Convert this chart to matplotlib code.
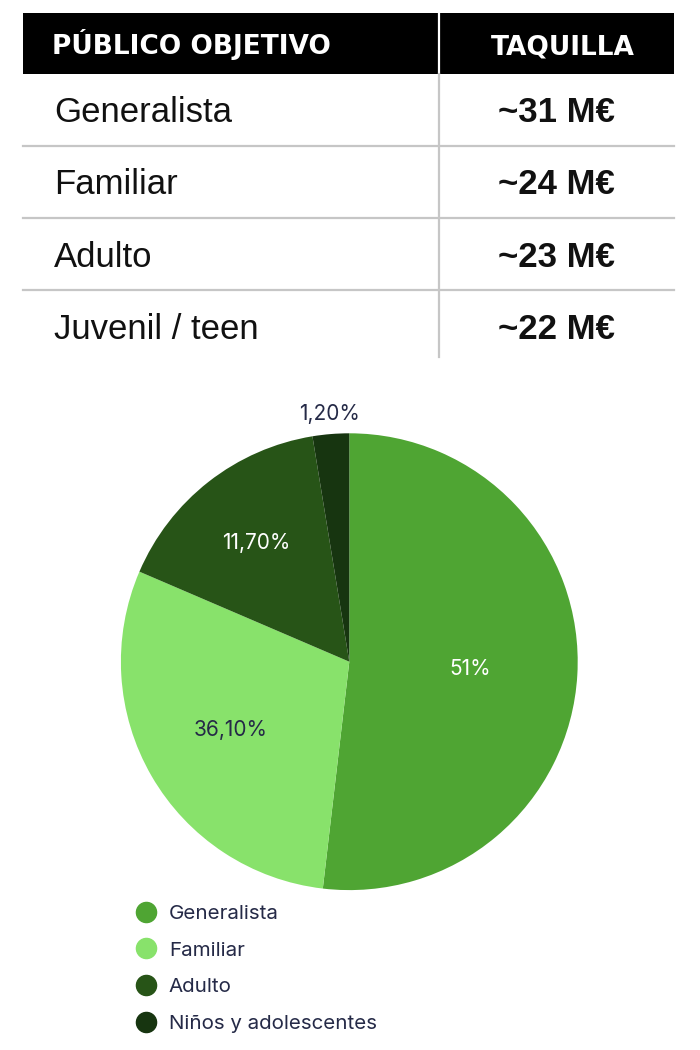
import matplotlib
matplotlib.use("Agg")
import matplotlib.pyplot as plt
from matplotlib.patches import Rectangle
from matplotlib.lines import Line2D
import numpy as np

### table data
header = ["PÚBLICO OBJETIVO", "TAQUILLA"]
publico = ["Generalista", "Familiar", "Adulto", "Juvenil / teen"]
taquilla = ["~31 M€", "~24 M€", "~23 M€", "~22 M€"]

### pie data (shares as drawn, labels as printed)
segmentos = ["Generalista", "Familiar", "Adulto", "Niños y adolescentes"]
cuota = [51.85, 29.6, 15.97, 2.58]
etiquetas = ["51%", "36,10%", "11,70%", "1,20%"]

colores = ["#4fa533", "#88e26b", "#275417", "#173510"]
color_txt = ["white", "#252a47", "white", "#252a47"]
dist_txt = [0.53, 0.60, 0.66, 1.09]
navy = "#252a47"

W, H = 700, 1050
fig = plt.figure(figsize=(W / 100, H / 100), dpi=100)

# full-figure axes in pixel units for the table
ax_t = fig.add_axes([0, 0, 1, 1])
ax_t.set_xlim(0, W)
ax_t.set_ylim(H, 0)
ax_t.axis("off")

x0, x1, xdiv = 23, 674, 438.5
y_head0, y_head1 = 12.5, 74
row_h = 72

ax_t.add_patch(Rectangle((x0, y_head0), x1 - x0, y_head1 - y_head0, color="black", lw=0))
ax_t.plot([xdiv, xdiv], [y_head0, y_head1], color="white", lw=1.6)
ax_t.plot([xdiv, xdiv], [y_head1, 357], color="#c6c6c6", lw=1.6)
for i in range(1, len(publico)):
	y = y_head1 + i * row_h
	ax_t.plot([x0, x1], [y, y], color="#c6c6c6", lw=1.6)

ax_t.text(52, 54.5, header[0], color="white", fontsize=19, fontweight="bold",
	family="DejaVu Sans", ha="left", va="baseline")
ax_t.text(563, 54.5, header[1], color="white", fontsize=19, fontweight="bold",
	family="DejaVu Sans", ha="center", va="baseline")

for i in range(len(publico)):
	yb = 121.7 + i * 72.5
	ax_t.text(54, yb, publico[i], color="#111111", fontsize=25, family="Liberation Sans",
		ha="left", va="baseline")
	ax_t.text(556, yb, taquilla[i], color="#111111", fontsize=25, fontweight="bold",
		family="Liberation Sans", ha="center", va="baseline")

# pie axes: center (349.3, 661.7), radius 228.4 px
cx, cy, r = 349.3, 661.7, 228.4
ax_p = fig.add_axes([(cx - r) / W, (H - cy - r) / H, 2 * r / W, 2 * r / H])
wedges, _ = ax_p.pie(cuota, colors=colores, startangle=90, counterclock=False,
	radius=1, wedgeprops=dict(linewidth=0))
ax_p.set_xlim(-1, 1)
ax_p.set_ylim(-1, 1)
ax_p.set_aspect("auto")
ax_p.axis("off")

for w, lab, c, d in zip(wedges, etiquetas, color_txt, dist_txt):
	ang = np.deg2rad((w.theta1 + w.theta2) / 2)
	ax_p.text(d * np.cos(ang), d * np.sin(ang), lab, color=c, fontsize=15,
		family="Inter", ha="center", va="center", clip_on=False)

handles = [Line2D([], [], marker="o", ls="", markersize=14.5, markerfacecolor=c,
	markeredgecolor=c) for c in colores]
leg = fig.legend(handles, segmentos, loc="upper left", bbox_to_anchor=(135.5 / W, 1 - 904.5 / H),
	frameon=False, fontsize=14.8, labelspacing=0.89, handletextpad=0.62,
	borderpad=0, borderaxespad=0, handlelength=1.0)
for t in leg.get_texts():
	t.set_color(navy)
	t.set_family("Inter")

fig.savefig("out.png", dpi=100)
